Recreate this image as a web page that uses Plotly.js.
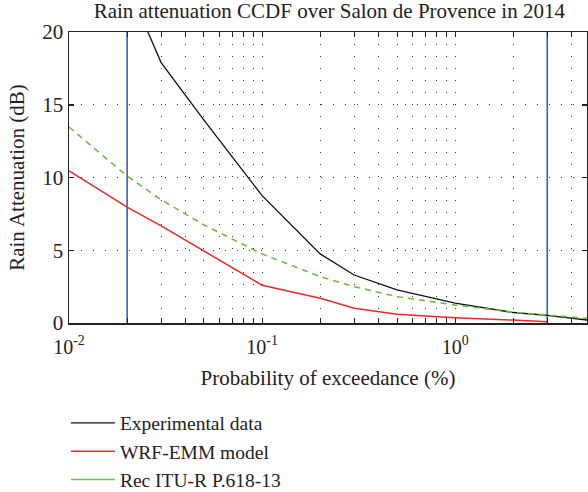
<!DOCTYPE html>
<html>
<head>
<meta charset="utf-8">
<script src="https://cdn.plot.ly/plotly-3.0.1.min.js"></script>
<style>html,body{margin:0;padding:0;background:#fff;}#chart{width:588px;height:492px;}</style>
</head>
<body>
<div id="chart"></div>
<script>
// Probability of exceedance (%)
const probExp = [0.02, 0.03, 0.05, 0.1, 0.2, 0.3, 0.5, 1, 2, 3, 5];
const attExp  = [23.3, 17.9, 13.95, 8.75, 4.75, 3.3, 2.27, 1.36, 0.72, 0.52, 0.18];

const probWrf = [0.01, 0.02, 0.03, 0.05, 0.1, 0.2, 0.3, 0.5, 1, 2, 3];
const attWrf  = [10.46, 7.96, 6.68, 4.95, 2.6, 1.7, 1.01, 0.6, 0.36, 0.2, 0.08];

const probItu = [0.01, 0.02, 0.03, 0.05, 0.1, 0.2, 0.3, 0.5, 1, 2, 3, 5];
const attItu  = [13.47, 10.1, 8.47, 6.74, 4.75, 3.19, 2.5, 1.81, 1.24, 0.74, 0.55, 0.3];

const markerProbs = [0.02, 3];
const markerSpan = [0, 20];

const legendNames = ["Experimental data", "WRF-EMM model", "Rec ITU-R P.618-13"];
const xTickVals = [0.01, 0.1, 1];
const xTickText = ["10<sup>-2</sup>", "10<sup>-1</sup>", "10<sup>0</sup>"];
const xMinorVals = [0.02,0.03,0.04,0.05,0.06,0.07,0.08,0.09,0.2,0.3,0.4,0.5,0.6,0.7,0.8,0.9,2,3,4];
const yTickVals = [0, 5, 10, 15, 20];

const font = "Liberation Serif, DejaVu Serif, serif";
const green = "#6dbd45";

const traces = [];
markerProbs.forEach(p => {
  traces.push({x: [p, p], y: markerSpan, mode: "lines", showlegend: false, hoverinfo: "skip",
    line: {color: "#3f5fae", width: 1.6}});
});
traces.push({x: probExp, y: attExp, mode: "lines", name: legendNames[0],
  line: {color: "#111111", width: 1.3}});
traces.push({x: probWrf, y: attWrf, mode: "lines", name: legendNames[1],
  line: {color: "#f0282a", width: 1.5}});
traces.push({x: probItu, y: attItu, mode: "lines", name: legendNames[2], showlegend: false,
  line: {color: green, width: 1.6, dash: "6px,5px"}});
// legend entry for the ITU curve (solid sample as in the reference legend)
traces.push({x: [null], y: [null], mode: "lines", name: legendNames[2],
  line: {color: green, width: 1.5}});

const layout = {
  width: 588, height: 492,
  margin: {l: 69, r: 1, t: 32, b: 169, autoexpand: false},
  paper_bgcolor: "#fff", plot_bgcolor: "#fff",
  font: {family: font, size: 20, color: "#222"},
  title: {text: "Rain attenuation CCDF over Salon de Provence in 2014", x: 0.56, xanchor: "center",
    y: 0.979, yanchor: "middle", font: {family: font, size: 21, color: "#222"}},
  xaxis: {
    type: "log", range: [-2, 0.683],
    tickvals: xTickVals, ticktext: xTickText,
    ticks: "inside", ticklen: 5, tickcolor: "#222", tickwidth: 1,
    ticklabelstandoff: 5,
    showline: true, linecolor: "#222", linewidth: 1.5, mirror: "ticks",
    showgrid: true, gridcolor: "#333", gridwidth: 1, griddash: "1px,11px",
    minor: {tickvals: xMinorVals, ticks: "inside", ticklen: 5, tickcolor: "#222",
      showgrid: true, gridcolor: "#333", gridwidth: 1, griddash: "1px,11px"},
    zeroline: false, automargin: false,
    tickfont: {family: font, size: 20, color: "#222"},
    title: {text: "Probability of exceedance (%)", font: {family: font, size: 21, color: "#222"}, standoff: 14}
  },
  yaxis: {
    range: [0, 20], tickvals: yTickVals,
    ticks: "inside", ticklen: 5, tickcolor: "#222", tickwidth: 1.5,
    showline: true, linecolor: "#222", linewidth: 1.5, mirror: "ticks",
    showgrid: true, gridcolor: "#333", gridwidth: 1, griddash: "1px,11px",
    zeroline: false, automargin: false,
    tickfont: {family: font, size: 21, color: "#222"},
    title: {text: "Rain Attenuation (dB)", font: {family: font, size: 21, color: "#222"}, standoff: 12}
  },
  showlegend: true,
  legend: {x: -0.006, xanchor: "left", y: -0.277, yanchor: "top", traceorder: "normal",
    itemwidth: 44, font: {family: font, size: 19.5, color: "#222"}, bgcolor: "rgba(0,0,0,0)"}
};

Plotly.newPlot("chart", traces, layout, {displayModeBar: false, staticPlot: true});
</script>
</body>
</html>
